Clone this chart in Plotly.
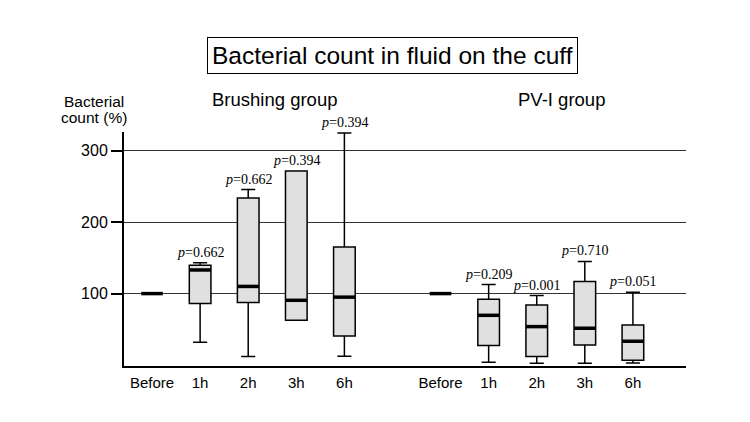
import plotly.graph_objects as go

# ---- data ----
time_labels = ["Before", "1h", "2h", "3h", "6h"]

brush_q1 = [100, 86, 87.4, 62.7, 40.7]
brush_median = [100, 133, 110, 90.6, 95]
brush_q3 = [100, 139.6, 233.7, 271.5, 165]
brush_low = [100, 32, 12, 62.7, 12.3]
brush_high = [100, 143, 245.4, 271.5, 324.6]
brush_p = [None, "0.662", "0.662", "0.394", "0.394"]

pvi_q1 = [100, 27.3, 11.9, 28, 6.7]
pvi_median = [100, 69.6, 53.8, 51.5, 33.3]
pvi_q3 = [100, 92, 84, 116.8, 56]
pvi_low = [100, 3.9, 2.5, 2.5, 3]
pvi_high = [100, 112.6, 97.2, 145, 101.8]
pvi_p = [None, "0.209", "0.001", "0.710", "0.051"]

y_ticks = [100, 200, 300]
y_label_lines = ["Bacterial", "count (%)"]

# slot positions: brushing group, one empty slot, PV-I group
n = len(time_labels)
x_brush = list(range(n))
x_pvi = [n + 1 + i for i in range(n)]

SANS = "Liberation Sans"
SERIF = "Liberation Serif"

fig = go.Figure()

for xs, q1, med, q3, lo, hi in [
    (x_brush, brush_q1, brush_median, brush_q3, brush_low, brush_high),
    (x_pvi, pvi_q1, pvi_median, pvi_q3, pvi_low, pvi_high),
]:
    fig.add_trace(go.Box(
        x=xs, q1=q1, median=med, q3=q3, lowerfence=lo, upperfence=hi,
        width=0.45, whiskerwidth=0.65,
        fillcolor="#e0e0e0", line=dict(color="black", width=1.5),
        boxpoints=False, showlegend=False, hoverinfo="skip",
    ))
    # thick median bars
    fig.add_trace(go.Scatter(
        x=xs, y=med, mode="markers",
        marker=dict(symbol="line-ew", size=15.4,
                    line=dict(color="black", width=3.5)),
        showlegend=False, hoverinfo="skip",
    ))

# p-value labels
annotations = []
for xs, hi, ps in [(x_brush, brush_high, brush_p), (x_pvi, pvi_high, pvi_p)]:
    for xv, yv, p in zip(xs, hi, ps):
        if p is None:
            continue
        annotations.append(dict(
            x=xv, y=yv, xref="x", yref="y", text="<i>p</i>=" + p,
            showarrow=False, yanchor="bottom", xanchor="center", yshift=1,
            font=dict(family=SERIF, size=14, color="black"),
        ))

# title box
annotations.append(dict(
    x=0.4786, y=1.329, xref="paper", yref="paper",
    text="Bacterial count in fluid on the cuff", showarrow=False,
    xanchor="center", yanchor="middle",
    font=dict(family=SANS, size=24.5, color="black"),
    bordercolor="black", borderwidth=1, borderpad=4, bgcolor="white",
))
# group labels
annotations.append(dict(
    x=(x_brush[0] + x_brush[-1]) / 2 + 0.54, y=1.137, xref="x", yref="paper",
    text="Brushing group", showarrow=False, xanchor="center", yanchor="middle",
    font=dict(family=SANS, size=18.5, color="black"),
))
annotations.append(dict(
    x=(x_pvi[0] + x_pvi[-1]) / 2 + 0.52, y=1.137, xref="x", yref="paper",
    text="PV-I group", showarrow=False, xanchor="center", yanchor="middle",
    font=dict(family=SANS, size=18.5, color="black"),
))
# y-axis label (two lines, tight spacing)
for i, line in enumerate(y_label_lines):
    annotations.append(dict(
        x=-0.053, y=1.13 - i * 0.07, xref="paper", yref="paper",
        text=line, showarrow=False,
        xanchor="center", yanchor="middle",
        font=dict(family=SANS, size=15.5, color="black"),
    ))

fig.update_layout(
    width=750, height=422,
    margin=dict(l=116, r=72, t=124, b=64),
    paper_bgcolor="white", plot_bgcolor="white",
    annotations=annotations,
    boxmode="overlay",
    xaxis=dict(
        range=[-0.583, 11.104], tickvals=x_brush + x_pvi,
        ticktext=time_labels + time_labels,
        showline=True, linecolor="black", linewidth=2,
        ticks="", showgrid=False, zeroline=False,
        ticklabelstandoff=2,
        tickfont=dict(family=SANS, size=15, color="black"),
    ),
    yaxis=dict(
        range=[-1.3, 326], tickvals=y_ticks,
        showline=True, linecolor="black", linewidth=2,
        ticks="outside", ticklen=11, tickwidth=2, tickcolor="black",
        showgrid=True, gridcolor="#333333", gridwidth=1, zeroline=False,
        tickfont=dict(family=SANS, size=16, color="black"),
    ),
)

fig.write_html("out.html")
